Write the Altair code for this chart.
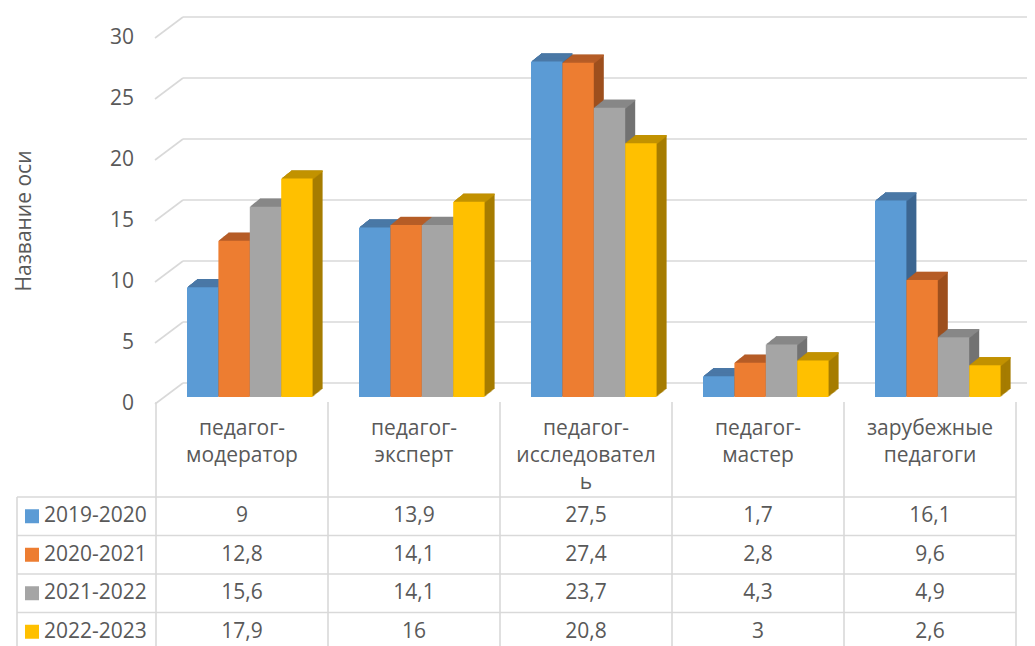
import altair as alt
import pandas as pd

# ---------------- data ----------------
categories = ["педагог-\nмодератор", "педагог-\nэксперт", "педагог-\nисследовател\nь",
              "педагог-\nмастер", "зарубежные\nпедагоги"]
series = ["2019-2020", "2020-2021", "2021-2022", "2022-2023"]
values_2019_2020 = [9, 13.9, 27.5, 1.7, 16.1]
values_2020_2021 = [12.8, 14.1, 27.4, 2.8, 9.6]
values_2021_2022 = [15.6, 14.1, 23.7, 4.3, 4.9]
values_2022_2023 = [17.9, 16, 20.8, 3, 2.6]
y_ticks = [0, 5, 10, 15, 20, 25, 30]
axis_title = "Название оси"

front_colors = ["#5B9BD5", "#ED7D31", "#A5A5A5", "#FFC000"]
top_colors = ["#4A78A6", "#B65D27", "#878787", "#C29200"]
side_colors = ["#3C6691", "#9E501E", "#727272", "#A67C00"]
text_color = "#595959"
line_color = "#D9D9D9"
FONT = "Open Sans"
FS = 21

all_values = [values_2019_2020, values_2020_2021, values_2021_2022, values_2022_2023]
rows = []
for si, (s, vals) in enumerate(zip(series, all_values)):
    for ci, (c, v) in enumerate(zip(categories, vals)):
        rows.append({"category": c, "ci": ci, "series": s, "si": si, "value": v})
df = pd.DataFrame(rows)
cat_df = pd.DataFrame({"category": categories, "ci": list(range(len(categories)))})
ser_df = pd.DataFrame({"series": series, "si": list(range(len(series)))})
tick_df = pd.DataFrame({"tick": y_ticks})

# ---------------- layout (pixels -> scale units) ----------------
W, H = 1019, 638
ORIGIN = 8
COL_PX = 172.0
COL0 = 156.0


def u(px):  # page x -> column units
    return (px - COL0) / COL_PX


FLOOR = 397.0
PPU = 12.2


def v(py):  # page y -> value units
    return (FLOOR - py) / PPU


ROW0 = 497.0
ROW_PX = 38.5

xs = alt.Scale(domain=[u(ORIGIN), u(ORIGIN + W)], nice=False, zero=False)
ys = alt.Scale(domain=[v(ORIGIN + H), v(ORIGIN)], nice=False, zero=False)

BAR_START = u(187)
BAR_W = 31.4 / COL_PX
BACK_DY = 14 / PPU
FRONT_DY = 7 / PPU
DEPTH_STEPS = 10
DX_STEP, DY_STEP = 1.0, 0.8
ROW_EXPR = f"({FLOOR} - {ROW0} - {ROW_PX} * (datum.si + 0.5)) / {PPU}"
ROWLINE_EXPR = f"({FLOOR} - {ROW0} - {ROW_PX} * datum.si) / {PPU}"

XA = alt.X("xa:Q", scale=xs, axis=None)

# ---------------- chart area ----------------
grid_back = alt.Chart(tick_df).transform_calculate(
    yb=f"datum.tick + {BACK_DY}", xa=f"{u(183)}", xb=f"{u(ORIGIN + W)}"
).mark_rule(color=line_color, strokeWidth=1.6).encode(
    x=XA, x2="xb:Q",
    y=alt.Y("yb:Q", scale=ys, axis=None),
)

grid_diag = alt.Chart(tick_df).transform_calculate(
    yb=f"datum.tick + {BACK_DY}", yf=f"datum.tick - {FRONT_DY}",
    xa=f"{u(155)}", xb=f"{u(183)}"
).mark_rule(color=line_color, strokeWidth=1.6).encode(
    x=XA, x2="xb:Q",
    y=alt.Y("yf:Q", scale=ys, axis=None),
    y2="yb:Q",
)

bar_base = alt.Chart(df).transform_calculate(
    xa=f"datum.ci + {BAR_START} + datum.si * {BAR_W}",
    xb=f"datum.ci + {BAR_START} + (datum.si + 1) * {BAR_W}",
    zero="0",
)

side_layers = []
top_layers = []
for k in range(DEPTH_STEPS, 0, -1):
    dx, dy = k * DX_STEP, k * DY_STEP
    side_layers.append(
        bar_base.mark_rect(xOffset=dx, x2Offset=dx, yOffset=-dy, y2Offset=-dy).encode(
            x=XA, x2="xb:Q",
            y=alt.Y("value:Q", scale=ys, axis=None),
            y2="zero:Q",
            fill=alt.Fill("series:N", scale=alt.Scale(domain=series, range=side_colors), legend=None),
        )
    )
    top_layers.append(
        bar_base.mark_rule(xOffset=dx, x2Offset=dx, yOffset=-dy + 0.6, strokeWidth=1.6,
                           strokeCap="butt").encode(
            x=XA, x2="xb:Q",
            y=alt.Y("value:Q", scale=ys, axis=None),
            stroke=alt.Stroke("series:N", scale=alt.Scale(domain=series, range=top_colors), legend=None),
        )
    )

bars_front = bar_base.mark_rect().encode(
    x=XA, x2="xb:Q",
    y=alt.Y("value:Q", scale=ys, axis=None),
    y2="zero:Q",
    color=alt.Color("series:N", scale=alt.Scale(domain=series, range=front_colors), legend=None),
)

tick_labels = alt.Chart(tick_df).transform_calculate(
    yf=f"datum.tick - {FRONT_DY}", xa=f"{u(134)}"
).mark_text(align="right", baseline="middle", font=FONT, fontSize=FS, color=text_color).encode(
    x=XA,
    y=alt.Y("yf:Q", scale=ys, axis=None),
    text=alt.Text("tick:Q"),
)

title_text = alt.Chart(pd.DataFrame({"t": [axis_title]})).transform_calculate(
    xa=f"{u(25)}", yc=f"{v(221)}"
).mark_text(
    angle=270, align="center", baseline="middle", font=FONT, fontSize=FS, color=text_color
).encode(
    x=XA,
    y=alt.Y("yc:Q", scale=ys, axis=None),
    text="t:N",
)

# ---------------- data table ----------------
hlines = alt.Chart(ser_df).transform_calculate(
    xa=f"{u(17)}", xb=f"{u(1016)}", yc=ROWLINE_EXPR
).mark_rule(color=line_color, strokeWidth=1.6).encode(
    x=XA, x2="xb:Q",
    y=alt.Y("yc:Q", scale=ys, axis=None),
)

bound_df = pd.DataFrame({"b": list(range(len(categories) + 1))})
vlines = alt.Chart(bound_df).transform_calculate(
    xa="datum.b", ya=f"{v(402)}", yb=f"{v(ORIGIN + H + 5)}"
).mark_rule(color=line_color, strokeWidth=1.6).encode(
    x=XA,
    y=alt.Y("ya:Q", scale=ys, axis=None),
    y2="yb:Q",
)

left_edge = alt.Chart(pd.DataFrame({"b": [0]})).transform_calculate(
    xa=f"{u(17)}", ya=f"{v(ROW0)}", yb=f"{v(ORIGIN + H + 5)}"
).mark_rule(color=line_color, strokeWidth=1.6).encode(
    x=XA,
    y=alt.Y("ya:Q", scale=ys, axis=None),
    y2="yb:Q",
)

header = alt.Chart(cat_df).transform_calculate(
    xa="datum.ci + 0.5", yc=f"{v(435)}"
).mark_text(
    align="center", baseline="alphabetic", lineBreak="\n", lineHeight=27,
    font=FONT, fontSize=FS, color=text_color
).encode(
    x=XA,
    y=alt.Y("yc:Q", scale=ys, axis=None),
    text="category:N",
)

cells = alt.Chart(df).transform_calculate(
    xa="datum.ci + 0.5", yc=ROW_EXPR,
    label="replace(toString(datum.value), '.', ',')"
).mark_text(align="center", baseline="middle", font=FONT, fontSize=FS, color=text_color).encode(
    x=XA,
    y=alt.Y("yc:Q", scale=ys, axis=None),
    text="label:N",
)

legend_sq = alt.Chart(ser_df).transform_calculate(
    xa=f"{u(32)}", yc=ROW_EXPR
).mark_square(size=196, opacity=1).encode(
    x=XA,
    y=alt.Y("yc:Q", scale=ys, axis=None),
    color=alt.Color("series:N", scale=alt.Scale(domain=series, range=front_colors), legend=None),
)

legend_lbl = alt.Chart(ser_df).transform_calculate(
    xa=f"{u(44)}", yc=ROW_EXPR
).mark_text(align="left", baseline="middle", font=FONT, fontSize=FS, color=text_color).encode(
    x=XA,
    y=alt.Y("yc:Q", scale=ys, axis=None),
    text="series:N",
)

chart = alt.layer(
    grid_back, grid_diag, *side_layers, *top_layers, bars_front, tick_labels, title_text,
    hlines, vlines, left_edge, header, cells, legend_sq, legend_lbl,
).properties(
    width=W, height=H,
    autosize=alt.AutoSizeParams(type="none"),
    padding={"left": 0, "right": 0, "top": 0, "bottom": 0},
).configure_view(stroke=None)

chart.save("out.html", embed_options={"renderer": "svg", "actions": False})
